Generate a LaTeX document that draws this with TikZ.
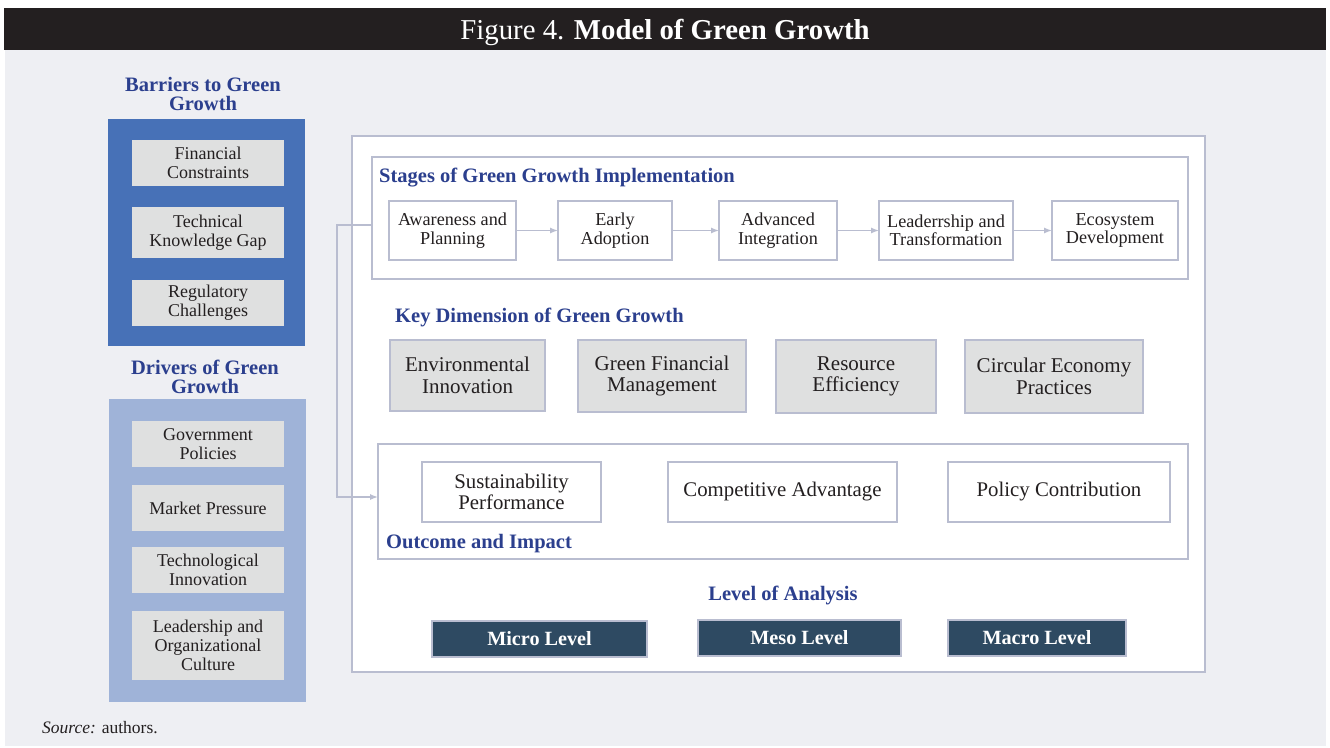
\documentclass[tikz,border=0pt]{standalone}
\usepackage{fontspec}
\setmainfont{Liberation Serif}
\usetikzlibrary{arrows.meta}
\definecolor{barc}{HTML}{231F20}
\definecolor{bgc}{HTML}{EEEFF3}
\definecolor{headc}{HTML}{2B3F8E}
\definecolor{barrc}{HTML}{4771B7}
\definecolor{drivc}{HTML}{9FB3D8}
\definecolor{grayc}{HTML}{DFE0E0}
\definecolor{edgec}{HTML}{B9BDD0}
\definecolor{levc}{HTML}{2E4A62}
\definecolor{txtc}{HTML}{231F20}
\newcommand\bx[7]{\node[#6, minimum width={(#4-#2)*1pt}, minimum height={(#5-#3)*1pt}] (#1) at ({(#2+#4)/2},{(#3+#5)/2}) {#7};}
\tikzset{
  base/.style={inner sep=0pt, outer sep=0pt, align=center, text=txtc},
  leftbox/.style={base, fill=grayc, font=\fontsize{18}{18.8}\selectfont},
  stagebox/.style={base, fill=white, draw=edgec, line width=1.3pt, font=\fontsize{18.2}{18.3}\selectfont},
  keybox/.style={base, fill=grayc, draw=edgec, line width=1.3pt, font=\fontsize{21}{21.5}\selectfont},
  outbox/.style={base, fill=white, draw=edgec, line width=1.3pt, font=\fontsize{20.8}{20.5}\selectfont},
  levbox/.style={base, fill=levc, draw=edgec, line width=1.3pt, text=white, font=\bfseries\fontsize{20.2}{21}\selectfont},
  frame/.style={base, fill=white, draw=edgec, line width=1.3pt},
  head/.style={inner sep=0pt, align=center, text=headc, font=\bfseries\fontsize{20.5}{18.5}\selectfont},
  conn/.style={draw=edgec, line width=1.3pt},
  tip/.style={-{Latex[length=8pt,width=6pt]}},
}
\begin{document}
\begin{tikzpicture}[x=1pt,y=-1pt]
\useasboundingbox (0,0) rectangle (1330,747);
\fill[white] (0,0) rectangle (1330,747);
\fill[bgc] (5,50) rectangle (1326,746);
\bx{bar}{4}{8}{1326}{50}{base, fill=barc}{}
\node[inner sep=0pt, text=white, font=\fontsize{28.8}{30}\selectfont] (title) at (665,32.5) {Figure 4. \textbf{Model of Green Growth}};

% left panel
\node[head] (barh) at (203,94) {Barriers to Green\\Growth};
\bx{barr}{108}{119}{305}{346}{base, fill=barrc}{}
\bx{b1}{132}{140}{284}{186}{leftbox}{Financial\\Constraints}
\bx{b2}{132}{207}{284}{258}{leftbox}{Technical\\Knowledge Gap}
\bx{b3}{132}{280}{284}{326}{leftbox}{Regulatory\\Challenges}
\node[head] (drvh) at (205,377) {Drivers of Green\\Growth};
\bx{driv}{109}{399}{306}{702}{base, fill=drivc}{}
\bx{d1}{132}{421}{284}{467}{leftbox}{Government\\Policies}
\bx{d2}{132}{485}{284}{531}{leftbox}{Market Pressure}
\bx{d3}{132}{547}{284}{593}{leftbox}{Technological\\Innovation}
\bx{d4}{132}{611}{284}{680}{leftbox}{Leadership and\\Organizational\\Culture}
\node[inner sep=0pt, anchor=west, text=txtc, font=\fontsize{17.5}{18}\selectfont] (src) at (42,728) {\textit{Source:} authors.};

% main panel
\bx{main}{352}{136}{1205}{672}{frame}{}
\bx{stages}{372}{157}{1188}{279}{frame}{}
\node[head, anchor=west] (stagesh) at (379,177.5) {Stages of Green Growth Implementation};
\bx{s1}{389}{201}{516}{260}{stagebox}{Awareness and\\Planning}
\bx{s2}{558}{201}{672}{260}{stagebox}{Early\\Adoption}
\bx{s3}{719}{201}{837}{260}{stagebox}{Advanced\\Integration}
\bx{s4}{879}{201}{1013}{260}{stagebox}{Leaderrship and\\Transformation}
\bx{s5}{1052}{201}{1178}{260}{stagebox}{Ecosystem\\Development}
\draw[conn, tip] (s1) -- (s2);
\draw[conn, tip] (s2) -- (s3);
\draw[conn, tip] (s3) -- (s4);
\draw[conn, tip] (s4) -- (s5);

\node[head, anchor=west] (keyh) at (395,317) {Key Dimension of Green Growth};
\bx{k1}{390}{340}{545}{411}{keybox}{Environmental\\Innovation}
\bx{k2}{578}{340}{746}{412}{keybox}{Green Financial\\Management}
\bx{k3}{776}{340}{936}{413}{keybox}{Resource\\Efficiency}
\bx{k4}{965}{340}{1143}{413}{keybox}{Circular Economy\\Practices}

\bx{outc}{378}{444}{1188}{559}{frame}{}
\bx{o1}{422}{462}{601}{522}{outbox}{Sustainability\\Performance}
\bx{o2}{668}{462}{897}{522}{outbox}{Competitive Advantage}
\bx{o3}{948}{462}{1170}{522}{outbox}{Policy Contribution}
\node[head, anchor=west] (outh) at (386,544) {Outcome and Impact};

\node[head] (levh) at (783,595) {Level of Analysis};
\bx{l1}{432}{621}{647}{657}{levbox}{Micro Level}
\bx{l2}{698}{620}{901}{656}{levbox}{Meso Level}
\bx{l3}{948}{620}{1126}{656}{levbox}{Macro Level}

% connector
\coordinate (c1) at (337,225);
\coordinate (c2) at (337,497);
\draw[conn, tip] (c1 -| stages.west) -- (c1) -- (c2) -- (c2 -| outc.west);
\end{tikzpicture}
\end{document}
